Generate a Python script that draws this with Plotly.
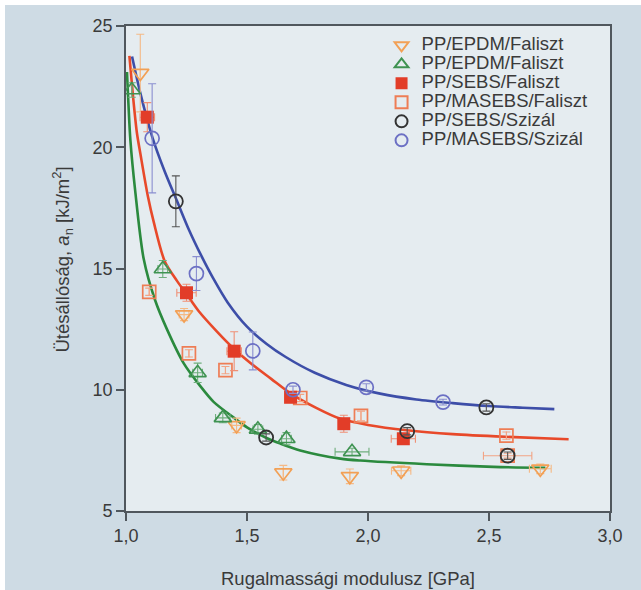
import plotly.graph_objects as go

# ---------------- data ----------------
# PP/EPDM/Faliszt (orange, open down-triangles)
s1_x = [1.059, 1.240, 1.457, 1.650, 1.925, 2.137, 2.712]
s1_y = [23.06, 13.10, 8.53, 6.58, 6.43, 6.66, 6.74]
s1_ex = [0.0, 0.02, 0.02, 0.0, 0.0, 0.04, 0.045]
s1_ey = [1.6, 0.25, 0.3, 0.3, 0.3, 0.2, 0.2]

# PP/EPDM/Faliszt (green, open up-triangles)
s2_x = [1.024, 1.152, 1.296, 1.400, 1.545, 1.663, 1.934]
s2_y = [22.36, 14.98, 10.70, 8.84, 8.37, 7.98, 7.44]
s2_ex = [0.0, 0.02, 0.02, 0.03, 0.02, 0.02, 0.07]
s2_ey = [0.3, 0.35, 0.4, 0.2, 0.2, 0.25, 0.15]

# PP/SEBS/Faliszt (red, filled squares)
s3_x = [1.088, 1.250, 1.447, 1.680, 1.900, 2.146]
s3_y = [21.24, 14.00, 11.59, 9.69, 8.60, 7.98]
s3_ex = [0.03, 0.04, 0.03, 0.02, 0.02, 0.05]
s3_ey = [0.6, 0.35, 0.8, 0.15, 0.35, 0.15]

# PP/MASEBS/Faliszt (orange, open squares)
s4_x = [1.096, 1.260, 1.411, 1.720, 1.971, 2.572, 2.577]
s4_y = [14.04, 11.50, 10.81, 9.66, 8.92, 8.11, 7.28]
s4_ex = [0.0, 0.0, 0.0, 0.0, 0.0, 0.0, 0.10]
s4_ey = [0.15, 0.15, 0.15, 0.15, 0.2, 0.15, 0.1]

# PP/SEBS/Szizál (black, open circles)
s5_x = [1.206, 1.579, 2.162, 2.489, 2.577]
s5_y = [17.77, 8.03, 8.29, 9.27, 7.28]
s5_ey = [1.05, 0.15, 0.15, 0.15, 0.15]

# PP/MASEBS/Szizál (blue, open circles)
s6_x = [1.108, 1.291, 1.524, 1.690, 1.993, 2.310]
s6_y = [20.37, 14.79, 11.60, 10.00, 10.10, 9.49]
s6_ey = [2.25, 0.7, 0.78, 0.15, 0.15, 0.12]

# fitted curves
blue_x = [1.025, 1.06, 1.11, 1.16, 1.21, 1.26, 1.31, 1.36, 1.42, 1.50, 1.58,
          1.66, 1.78, 1.91, 2.05, 2.20, 2.35, 2.50, 2.64, 2.77]
blue_y = [23.74, 22.2, 20.38, 19.0, 17.8, 16.6, 15.55, 14.6, 13.6, 12.6, 11.9,
          11.35, 10.7, 10.2, 9.84, 9.6, 9.45, 9.33, 9.26, 9.2]

red_x = [1.014, 1.03, 1.045, 1.06, 1.09, 1.115, 1.16, 1.21, 1.25, 1.30, 1.376,
         1.445, 1.514, 1.60, 1.68, 1.786, 1.886, 2.0, 2.161, 2.35, 2.567, 2.829]
red_y = [23.77, 22.0, 20.6, 19.7, 18.0, 16.9, 15.3, 14.5, 13.95, 13.25, 12.4,
         11.7, 11.1, 10.45, 9.85, 9.25, 8.8, 8.55, 8.33, 8.17, 8.06, 7.96]

green_x = [1.004, 1.01, 1.018, 1.038, 1.073, 1.12, 1.169, 1.238, 1.307, 1.362,
           1.445, 1.50, 1.583, 1.638, 1.72, 1.886, 1.968, 2.243, 2.519, 2.733]
green_y = [23.1, 21.8, 20.3, 18.2, 15.4, 13.7, 12.5, 11.1, 10.15, 9.5,
           8.85, 8.45, 8.0, 7.78, 7.5, 7.16, 7.08, 6.93, 6.82, 6.78]

x_ticks = [1.0, 1.5, 2.0, 2.5, 3.0]
x_tick_text = ["1,0", "1,5", "2,0", "2,5", "3,0"]
y_ticks = [5, 10, 15, 20, 25]
y_tick_text = ["5", "10", "15", "20", "25"]

# ---------------- styling ----------------
FONT = "Liberation Sans, Arial, sans-serif"
TXT = "#3a3a3a"
PANEL = "#cedbe4"
PLOTBG = "#e5ecf0"
AXC = "#50575d"

fig = go.Figure()

for cx, cy, col in [(green_x, green_y, "#2b8a3e"),
                    (red_x, red_y, "#e8492a"),
                    (blue_x, blue_y, "#3d4ea8")]:
    fig.add_trace(go.Scatter(x=cx, y=cy, mode="lines", showlegend=False,
                             hoverinfo="skip",
                             line=dict(color=col, width=2.6, shape="spline",
                                       smoothing=0.8)))


def lab(t):
    return '<span style="font-size:18.5px">' + t + '</span>'


def eb(arr, col):
    return dict(type="data", array=arr, visible=True, color=col,
                thickness=1.1, width=4)


fig.add_trace(go.Scatter(
    x=s1_x, y=s1_y, mode="markers", name=lab("PP/EPDM/Faliszt"),
    marker=dict(symbol="triangle-down-open", size=15, color="#f2a055",
                line=dict(width=1.7)),
    error_x=eb(s1_ex, "#f5b985"), error_y=eb(s1_ey, "#f5b985"),
    legendrank=1))

fig.add_trace(go.Scatter(
    x=s2_x, y=s2_y, mode="markers", name=lab("PP/EPDM/Faliszt"),
    marker=dict(symbol="triangle-up-open", size=15, color="#3f9352",
                line=dict(width=1.7)),
    error_x=eb(s2_ex, "#6fae7c"), error_y=eb(s2_ey, "#6fae7c"),
    legendrank=2))

fig.add_trace(go.Scatter(
    x=s4_x, y=s4_y, mode="markers", name=lab("PP/MASEBS/Faliszt"),
    marker=dict(symbol="square-open", size=13, color="#ee7d55",
                line=dict(width=1.7)),
    error_x=eb(s4_ex, "#f2a485"), error_y=eb(s4_ey, "#f2a485"),
    legendrank=4))

fig.add_trace(go.Scatter(
    x=s3_x, y=s3_y, mode="markers", name=lab("PP/SEBS/Faliszt"),
    marker=dict(symbol="square", size=13, color="#e23d28",
                line=dict(width=0)),
    error_x=eb(s3_ex, "#ef8f75"), error_y=eb(s3_ey, "#ef8f75"),
    legendrank=3))

fig.add_trace(go.Scatter(
    x=s6_x, y=s6_y, mode="markers", name=lab("PP/MASEBS/Szizál"),
    marker=dict(symbol="circle-open", size=14, color="#6c70c4",
                line=dict(width=1.7)),
    error_y=eb(s6_ey, "#8a8ed0"), legendrank=6))

fig.add_trace(go.Scatter(
    x=s5_x, y=s5_y, mode="markers", name=lab("PP/SEBS/Szizál"),
    marker=dict(symbol="circle-open", size=14, color="#333333",
                line=dict(width=1.8)),
    error_y=eb(s5_ey, "#555555"), legendrank=5))

fig.update_layout(
    width=641, height=590,
    margin=dict(l=126, r=31, t=26, b=79),
    paper_bgcolor="white",
    plot_bgcolor=PLOTBG,
    font=dict(family=FONT, size=18, color=TXT),
    showlegend=True,
    legend=dict(x=0.528, y=0.99, xanchor="left", yanchor="top",
                bgcolor="rgba(0,0,0,0)", borderwidth=0,
                font=dict(family=FONT, size=12, color=TXT),
                itemsizing="constant", traceorder="normal"),
    xaxis=dict(range=[1, 3], tickvals=x_ticks, ticktext=x_tick_text,
               showgrid=False, zeroline=False, showline=True, linecolor=AXC,
               linewidth=1.6, mirror=True, ticks="outside", ticklen=8,
               tickwidth=1.6, tickcolor=AXC,
               tickfont=dict(family=FONT, size=18, color=TXT)),
    yaxis=dict(range=[5, 25], tickvals=y_ticks, ticktext=y_tick_text,
               showgrid=False, zeroline=False, showline=True, linecolor=AXC,
               linewidth=1.6, mirror=True, ticks="outside", ticklen=8,
               tickwidth=1.6, tickcolor=AXC,
               tickfont=dict(family=FONT, size=18, color=TXT)),
    shapes=[
        dict(type="rect", xref="paper", yref="paper", layer="below",
             x0=-(126 - 5) / 484, x1=1 + 40 / 484,
             y0=-100 / 484, y1=1 + (26 - 5) / 484,
             fillcolor=PANEL, line=dict(width=0)),
        dict(type="rect", xref="x domain", yref="y domain", layer="below",
             x0=0, x1=1, y0=0, y1=1, fillcolor=PLOTBG, line=dict(width=0)),
    ],
    annotations=[
        dict(text="Rugalmassági modulusz [GPa]", xref="paper", yref="paper",
             x=0.459, y=0, yshift=-67, xanchor="center", yanchor="middle",
             showarrow=False, font=dict(family=FONT, size=18.5, color=TXT)),
        dict(text="Ütésállóság, <i>a</i><sub>n</sub> [kJ/m<sup>2</sup>]",
             xref="paper", yref="paper", x=-0.1316, y=0.519, textangle=-90,
             xanchor="center", yanchor="middle", showarrow=False,
             font=dict(family=FONT, size=18.5, color=TXT)),
    ],
)

fig.write_html("out.html",
               config={"displayModeBar": False},
               post_script="document.body.style.margin='0';"
                           "document.body.style.overflow='hidden';")
